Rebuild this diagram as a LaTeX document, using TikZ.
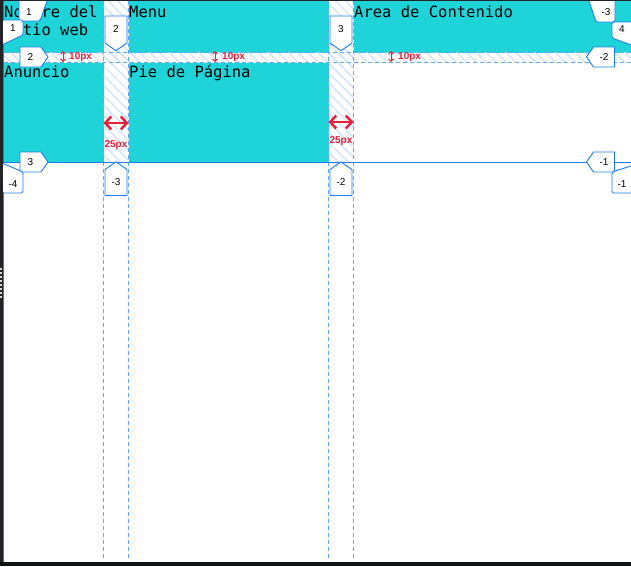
\documentclass[tikz,border=0pt]{standalone}
\usepackage{fontspec}
\setmainfont{Liberation Sans}
\newfontfamily\cellfont{DejaVu Sans Mono}
\usetikzlibrary{shapes.symbols,patterns.meta,arrows.meta}

\definecolor{cellcyan}{RGB}{30,212,216}
\definecolor{gridblue}{RGB}{26,125,235}
\definecolor{gapblue}{RGB}{95,168,245}
\definecolor{hatchblue}{RGB}{205,225,250}
\definecolor{gapred}{RGB}{228,34,58}
\definecolor{framegray}{RGB}{34,35,38}

\tikzset{
	cell/.style={fill=cellcyan,draw=none},
	celltext/.style={anchor=base west,inner sep=0pt,align=left,
		font=\fontsize{15.5}{18.5}\selectfont\cellfont},
	gap/.style={pattern={Lines[angle=-45,distance=7pt,line width=1.2pt]},
		pattern color=hatchblue},
	gapline/.style={gapblue,line width=0.8pt,dash pattern=on 4pt off 3pt},
	badge/.style={signal,draw=gridblue,fill=white,line width=0.9pt,
		inner sep=0pt,font=\fontsize{10}{12}\selectfont,
		signal pointer angle=110},
	rowbadge/.style={badge,minimum width=28pt,minimum height=20pt},
	colbadge/.style={badge,minimum width=22pt,minimum height=29pt},
	cornerbadge/.style={draw=gridblue,fill=white,line width=0.9pt,
		rounded corners=1.5pt},
	badgetext/.style={inner sep=0pt,font=\fontsize{10}{12}\selectfont},
	gaptext/.style={text=gapred,inner sep=0pt,
		font=\bfseries\fontsize{10}{12}\selectfont},
	rowgap/.style={gapred,line width=1pt,
		{Straight Barb[length=2.5pt,width=5pt]}-{Straight Barb[length=2.5pt,width=5pt]}},
	colgap/.style={gapred,line width=2.5pt,
		{Straight Barb[length=6pt,width=13pt]}-{Straight Barb[length=6pt,width=13pt]}}
}

\begin{document}
\begin{tikzpicture}[x=1pt,y=-1pt]

	\useasboundingbox (0,0) rectangle (631,566);
	\fill[white] (0,0) rectangle (631,566);

	% grid areas
	\fill[cell] (4,1) rectangle (103.5,52.5);
	\fill[cell] (128.5,1) rectangle (328.5,52.5);
	\fill[cell] (353.5,1) rectangle (631,52.5);
	\fill[cell] (4,62.5) rectangle (103.5,162);
	\fill[cell] (128.5,62.5) rectangle (328.5,162);

	% gaps
	\fill[gap] (4,52.5) rectangle (631,62.5);
	\fill[gap] (103.5,1) rectangle (128.5,162);
	\fill[gap] (328.5,1) rectangle (353.5,162);

	\draw[gapline] (4,52.5) -- (631,52.5);
	\draw[gapline] (4,62.5) -- (631,62.5);
	\draw[gapline] (103.5,1) -- (103.5,560);
	\draw[gapline] (128.5,1) -- (128.5,560);
	\draw[gapline] (328.5,1) -- (328.5,560);
	\draw[gapline] (353.5,1) -- (353.5,560);

	\draw[gridblue,line width=1pt] (4,162) -- (631,162);
	\draw[gridblue,line width=1.2pt] (3.6,0) -- (3.6,562);

	% contents (base = last line)
	\node[celltext] (nombre) at (4,35.5) {Nombre del\\sitio web};
	\node[celltext] (menu) at (129,17) {Menu};
	\node[celltext] (area) at (354,17) {Area de Contenido};
	\node[celltext] (anuncio) at (4,77) {Anuncio};
	\node[celltext] (pie) at (129,77) {Pie de Página};

	% row gap sizes
	\coordinate (ra1) at (63,51);
	\coordinate (ra2) at (63,62);
	\coordinate (rb1) at (215,51);
	\coordinate (rb2) at (215,62);
	\coordinate (rc1) at (391,51);
	\coordinate (rc2) at (391,62);
	\draw[rowgap] (ra1) -- (ra2);
	\draw[rowgap] (rb1) -- (rb2);
	\draw[rowgap] (rc1) -- (rc2);
	\node[gaptext,anchor=west] (rowa) at (69,57) {10px};
	\node[gaptext,anchor=west] (rowb) at (222,57) {10px};
	\node[gaptext,anchor=west] (rowc) at (398,57) {10px};

	% column gap sizes
	\coordinate (ca1) at (103.5,123);
	\coordinate (ca2) at (128.5,123);
	\coordinate (cb1) at (328.5,122);
	\coordinate (cb2) at (353.5,122);
	\draw[colgap] (ca1) -- (ca2);
	\draw[colgap] (cb1) -- (cb2);
	\node[gaptext] (cola) at (116,145.5) {25px};
	\node[gaptext] (colb) at (341,141) {25px};

	% line numbers
	\node[rowbadge,signal to=east] (r2) at (30.5,57) {2};
	\node[rowbadge,signal to=east] (r3) at (30.5,162) {3};
	\node[rowbadge,signal to=west] (rm2) at (604,57) {-2};
	\node[rowbadge,signal to=west] (rm1) at (604,162) {-1};

	\node[colbadge,signal to=south] (c2) at (116,29.5) {2};
	\node[colbadge,signal to=south] (c3) at (341,29.5) {3};
	\node[colbadge,signal to=north] (cm3) at (116,182.5) {-3};
	\node[colbadge,signal to=north] (cm2) at (341,182.5) {-2};

	\draw[cornerbadge] (19,-2) -- (48,-2) -- (40,21) -- (19,21) -- cycle;
	\node[badgetext] (c1) at (29,12) {1};
	\draw[cornerbadge] (2,20) -- (23,20) -- (23,35) -- (2,45) -- cycle;
	\node[badgetext] (r1) at (13,28) {1};
	\draw[cornerbadge] (2,163) -- (23,172) -- (23,193) -- (2,193) -- cycle;
	\node[badgetext] (cm4) at (13,184) {-4};

	\draw[cornerbadge] (588,-2) -- (615,-2) -- (615,22) -- (596,22) -- cycle;
	\node[badgetext] (rm3) at (606,12) {-3};
	\draw[cornerbadge] (612,22) -- (634,22) -- (634,46) -- (612,38) -- cycle;
	\node[badgetext] (c4) at (622,29) {4};
	\draw[cornerbadge] (612,172) -- (634,165) -- (634,193) -- (612,193) -- cycle;
	\node[badgetext] (cm1) at (622,184) {-1};

	% window frame
	\fill[framegray] (0,0) rectangle (631,1.2);
	\fill[framegray] (0,0) rectangle (3,566);
	\fill[framegray!50!black] (0,562) rectangle (631,566);
	\draw[white!85!black,line width=1.5pt,dash pattern=on 2pt off 2pt]
	(1,268) -- (1,298);

\end{tikzpicture}
\end{document}
